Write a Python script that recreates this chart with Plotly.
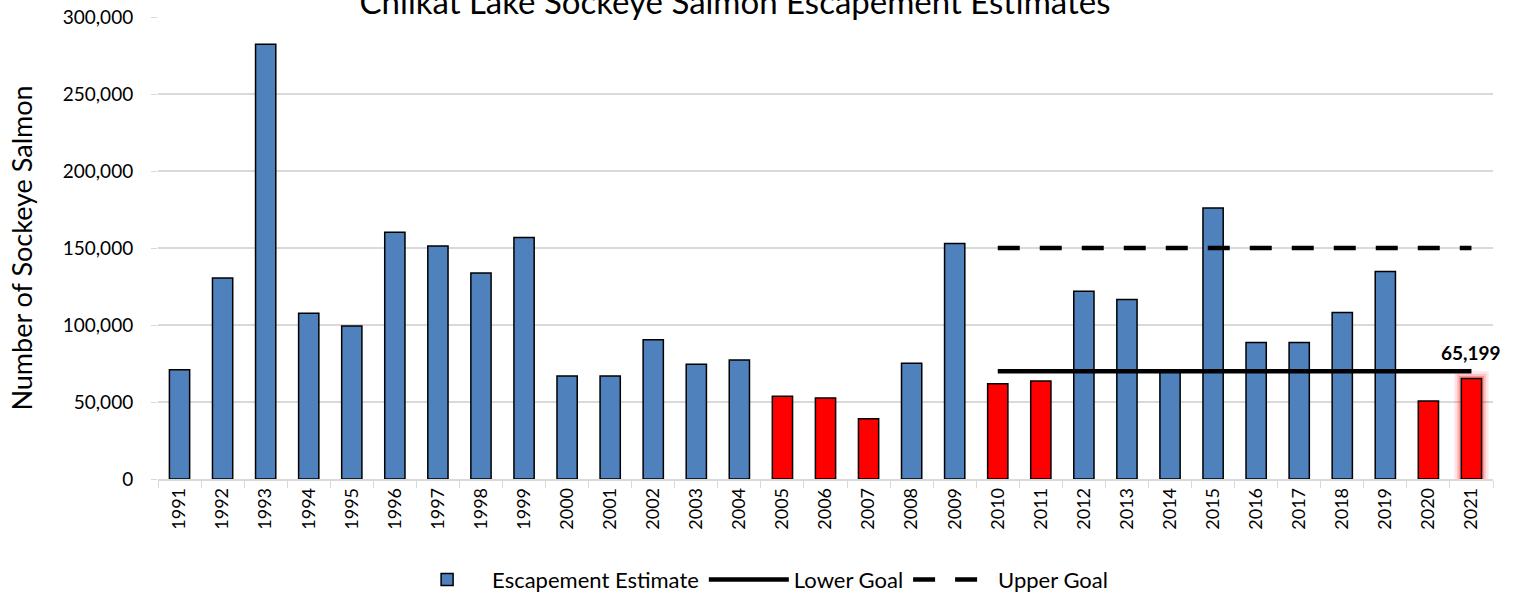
import plotly.graph_objects as go

years = [str(y) for y in range(1991, 2022)]
escapement = [71000, 130500, 282300, 107600, 99400, 160200, 151300, 133800, 156800,
              66900, 66900, 90500, 74500, 77300, 53700, 52600, 39200, 75100, 153000,
              61900, 63600, 121900, 116500, 69800, 176000, 88600, 88600, 108100, 134700,
              50600, 65199]
red_years = ["2005", "2006", "2007", "2010", "2011", "2020", "2021"]
goal_years = ["2010", "2021"]
lower_goal = [70000, 70000]
upper_goal = [150000, 150000]
highlight_year = "2021"
highlight_label = "65,199"

BLUE = "#4f81bd"
RED = "#ff0000"
FONT = "Lato"

colors = [RED if y in red_years else BLUE for y in years]
glow_vals = [v if y == highlight_year else None for y, v in zip(years, escapement)]
hi_idx = years.index(highlight_year)

fig = go.Figure()

# glow around the highlighted bar
for lw, alpha in [(14, 0.10), (9, 0.15), (5, 0.25)]:
    fig.add_trace(go.Bar(
        x=years, y=glow_vals, width=0.47,
        marker=dict(color="rgba(0,0,0,0)", line=dict(color=f"rgba(255,0,0,{alpha})", width=lw)),
        showlegend=False, hoverinfo="skip"))

fig.add_trace(go.Bar(
    x=years, y=escapement, name="Escapement Estimate", width=0.47,
    marker=dict(color=colors, line=dict(color="black", width=1.5))))

fig.add_trace(go.Scatter(
    x=goal_years, y=lower_goal, mode="lines", name="Lower Goal",
    line=dict(color="black", width=4.5)))
fig.add_trace(go.Scatter(
    x=goal_years, y=upper_goal, mode="lines", name="Upper Goal",
    line=dict(color="black", width=4.5, dash="22px,20px")))

fig.add_annotation(x=hi_idx, y=escapement[hi_idx], xref="x", yref="y",
                   text=f"<b>{highlight_label}</b>",
                   showarrow=False, yanchor="bottom", yshift=14, borderpad=0,
                   font=dict(family=FONT, size=19, color="black"))

fig.update_layout(
    width=1514, height=594,
    margin=dict(l=158, r=21, t=17, b=115, autoexpand=False),
    paper_bgcolor="white", plot_bgcolor="white",
    barmode="overlay",
    font=dict(family=FONT, size=19, color="black"),
    title=dict(text="Chilkat Lake Sockeye Salmon Escapement Estimates",
               x=735 / 1514, xanchor="center", y=1 - 2 / 594, yanchor="middle",
               font=dict(family=FONT, size=33, color="black")),
    legend=dict(orientation="h", x=680 / 1514, xanchor="center", y=-0.218, yanchor="middle",
                font=dict(family=FONT, size=22), traceorder="normal", itemwidth=80),
    showlegend=True,
)
fig.update_xaxes(type="category", range=[-0.5, len(years) - 0.5], automargin=False,
                 tickangle=-90, showline=True, linecolor="#d9d9d9", linewidth=1.5,
                 ticks="outside", tickson="boundaries", ticklen=7, tickcolor="#d9d9d9",
                 tickfont=dict(family=FONT, size=18), showgrid=False)
fig.update_yaxes(range=[0, 300000], dtick=50000, tickformat=",", automargin=False,
                 gridcolor="#d9d9d9", gridwidth=1.5, zeroline=False, showline=False,
                 ticks="outside", ticklen=6, tickcolor="#d9d9d9", ticklabelstandoff=14,
                 tickfont=dict(family=FONT, size=19),
                 title=dict(text="Number of Sockeye Salmon", font=dict(family=FONT, size=27),
                            standoff=22))

fig.write_html("out.html", config={"displayModeBar": False},
               post_script="document.body.style.margin='0';")
